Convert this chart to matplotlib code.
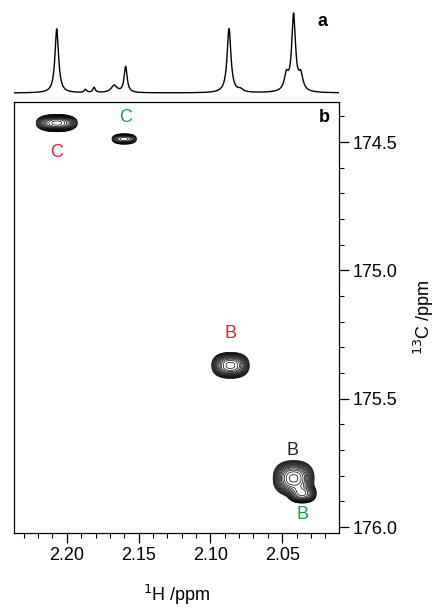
import numpy as np
import matplotlib
matplotlib.use("Agg")
import matplotlib.pyplot as plt
from matplotlib.ticker import MultipleLocator

plt.rcParams['font.family'] = ['Liberation Sans', 'DejaVu Sans']

# ---- 1D proton spectrum (panel a): peak positions / heights / widths ----
h1_pos = [2.207, 2.187, 2.181, 2.167, 2.159, 2.087, 2.079, 2.047, 2.042, 2.037]
h1_height = [0.62, 0.03, 0.05, 0.07, 0.25, 0.62, 0.025, 0.15, 0.74, 0.15]
h1_fwhm = [0.0030, 0.002, 0.002, 0.005, 0.0025, 0.0032, 0.004, 0.0035, 0.0032, 0.0035]

# ---- 2D HC peaks (panel b) ----
pk_h = [2.207, 2.160, 2.086, 2.042, 2.036]
pk_c = [174.426, 174.488, 175.37, 175.81, 175.87]
pk_amp = [1.0, 0.45, 1.0, 1.2, 0.75]
pk_sh = [0.0068, 0.0046, 0.0062, 0.0066, 0.0048]
pk_sc = [0.0160, 0.0110, 0.024, 0.032, 0.018]

# ---- labels ----
lab_text = ['C', 'C', 'B', 'B', 'B']
lab_h = [2.207, 2.159, 2.086, 2.043, 2.036]
lab_c = [174.54, 174.405, 175.245, 175.70, 175.95]
lab_col = ['#e8202a', '#1a9e4a', '#e8202a', '#222222', '#1a9e4a']

xlim = (2.2368, 2.0104)
ylim = (176.023, 174.344)

fig = plt.figure(figsize=(4.37, 6.08), dpi=100)
L, R = 14 / 437, 339 / 437
axa = fig.add_axes([L, 1 - 97 / 608, R - L, 92 / 608])
axb = fig.add_axes([L, 1 - 533 / 608, R - L, (533 - 102) / 608])

# panel a
x = np.linspace(xlim[1], xlim[0], 3000)
spec = np.zeros_like(x)
for p, hgt, w in zip(h1_pos, h1_height, h1_fwhm):
    g = (w / 2) ** 2
    spec += hgt * g / ((x - p) ** 2 + g)
M = spec.max()
axa.plot(x, spec, color='black', lw=1.0)
axa.set_xlim(*xlim)
axa.set_ylim(-0.05 * M, 1.1 * M)
axa.axis('off')
fig.text(322 / 437, 1 - 22 / 608, 'a', fontsize=13, fontweight='bold', ha='center', va='center')

# panel b
hx = np.linspace(xlim[1], xlim[0], 700)
cy = np.linspace(ylim[1], ylim[0], 900)
HX, CY = np.meshgrid(hx, cy)
Z = np.zeros_like(HX)
for h, c, a, sh, sc in zip(pk_h, pk_c, pk_amp, pk_sh, pk_sc):
    r = (np.abs((HX - h) / sh) ** 2.4 + np.abs((CY - c) / sc) ** 2.4)
    Z += a * np.exp(-0.5 * r)
levels = np.geomspace(0.05, 1.12, 16)
axb.contour(HX, CY, Z, levels=levels, colors='black', linewidths=0.5)
axb.set_xlim(*xlim)
axb.set_ylim(*ylim)

for t, h, c, col in zip(lab_text, lab_h, lab_c, lab_col):
    axb.text(h, c, t, color=col, fontsize=13, ha='center', va='center')

axb.text(0.955, 0.965, 'b', transform=axb.transAxes, fontsize=13, fontweight='bold',
         ha='center', va='center')

axb.xaxis.set_major_locator(MultipleLocator(0.05))
axb.xaxis.set_minor_locator(MultipleLocator(0.01))
axb.yaxis.set_major_locator(MultipleLocator(0.5))
axb.yaxis.set_minor_locator(MultipleLocator(0.1))
axb.xaxis.set_major_formatter(plt.FuncFormatter(lambda v, p: f'{v:.2f}'))
axb.yaxis.set_major_formatter(plt.FuncFormatter(lambda v, p: f'{v:.1f}'))
axb.yaxis.tick_right()
axb.yaxis.set_label_position('right')
axb.tick_params(which='major', direction='out', length=7, width=0.9, labelsize=13, pad=3)
axb.tick_params(which='minor', direction='out', length=3.5, width=0.8)
for s in axb.spines.values():
    s.set_linewidth(0.9)
axb.set_xlabel('$^{1}$H /ppm', fontsize=13, labelpad=14)
axb.set_ylabel('$^{13}$C /ppm', fontsize=13, labelpad=10)

fig.savefig('out.png', dpi=100)
